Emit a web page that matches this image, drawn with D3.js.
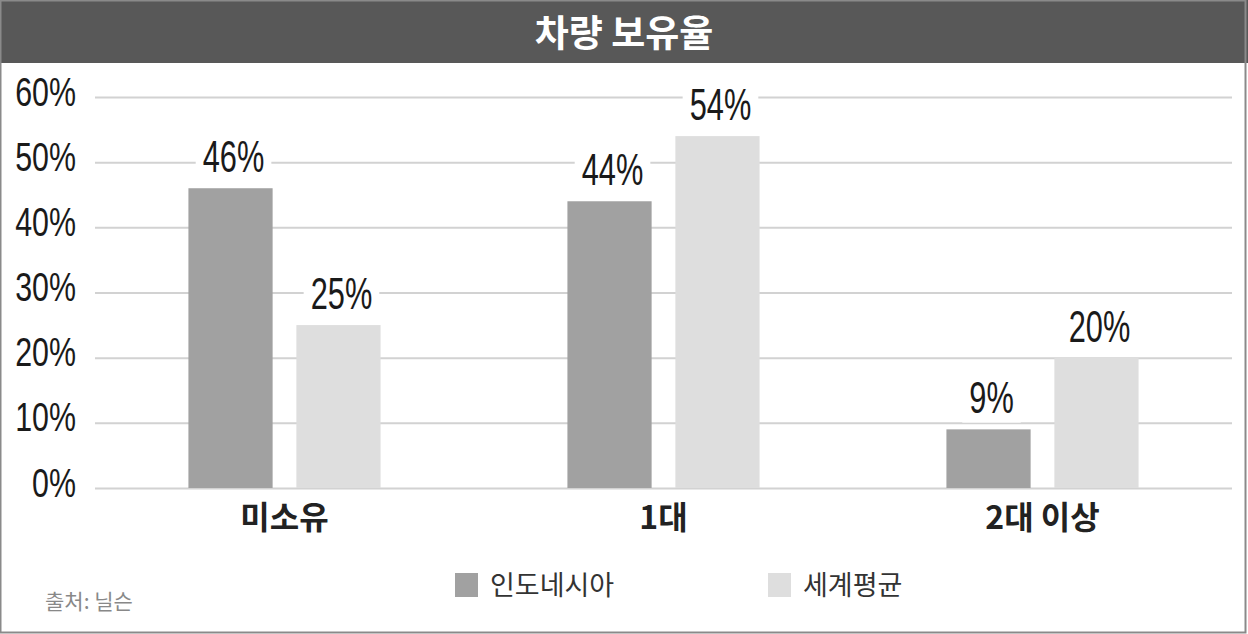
<!DOCTYPE html>
<html><head><meta charset="utf-8">
<script src="https://cdn.jsdelivr.net/npm/d3@7"></script>
<style>
html,body{margin:0;padding:0;background:#fff;}
svg{display:block;}
</style></head>
<body>
<svg id="c" width="1248" height="634"></svg>
<script>
const title = "차량 보유율";
const categories = ["미소유", "1대", "2대 이상"];
const seriesNames = ["인도네시아", "세계평균"];
const indonesia = [46, 44, 9];
const worldAvg = [25, 54, 20];
const yTicks = [0, 10, 20, 30, 40, 50, 60];
const source = "출처: 닐슨";
const colors = ["#a1a1a1", "#dedede"];

(function(){
const W = 1248, H = 634;
const svg = d3.select("#c");
const kr = "'Noto Sans CJK KR','Noto Sans',sans-serif";
const num = "'Liberation Sans',Arial,sans-serif";

svg.append("rect").attr("x",0).attr("y",0).attr("width",W).attr("height",H).attr("fill","#fff");
svg.append("rect").attr("x",0).attr("y",0).attr("width",W).attr("height",63).attr("fill","#585858");
svg.append("text").attr("x",W/2).attr("y",34).attr("dy","0.36em").attr("text-anchor","middle")
  .attr("font-family",kr).attr("font-weight","bold").attr("font-size",37).attr("fill","#fff").text(title);

const pL = 95, pR = 1232, pT = 97, pB = 488;
const y = d3.scaleLinear().domain([0,60]).range([pB, pT]);
const x0 = d3.scaleBand().domain(categories).range([pL, pR]).paddingInner(0.493).paddingOuter(0.2465);
const x1 = d3.scaleBand().domain(seriesNames).range([0, x0.bandwidth()]).paddingInner(0.22).paddingOuter(0);

const tsx = 0.76;
const yAxis = d3.axisLeft(y).tickValues(yTicks).tickFormat(d => d + "%")
  .tickSize(-(pR-pL)).tickPadding(19);
const gy = svg.append("g").attr("transform",`translate(${pL},0)`).call(yAxis);
gy.select(".domain").remove();
gy.selectAll(".tick line").attr("stroke","#d2d2d2").attr("stroke-width",2);
gy.selectAll(".tick text").attr("font-family",num).attr("font-size",40).attr("fill","#1a1a1a")
  .attr("dy","0").attr("y",8).attr("x",-19/tsx).attr("transform",`scale(${tsx},1)`);

const data = categories.map((c,i) => ({cat:c, vals:[
  {s:seriesNames[0], v:indonesia[i]}, {s:seriesNames[1], v:worldAvg[i]}]}));

const vsx = 0.7;
const g = svg.append("g").selectAll("g").data(data).join("g")
  .attr("transform", d => `translate(${x0(d.cat)},0)`);
g.selectAll("rect").data(d => d.vals).join("rect")
  .attr("x", d => x1(d.s)).attr("y", d => y(d.v))
  .attr("width", x1.bandwidth()).attr("height", d => y(0) - y(d.v))
  .attr("fill", (d,i) => colors[i]);
const lab = g.selectAll("g.val").data(d => d.vals).join("g").attr("class","val")
  .attr("transform", d => `translate(${x1(d.s) + x1.bandwidth()/2 + 3},${y(d.v) - 16}) scale(${vsx},1)`);
const bg = lab.append("rect").attr("fill","#fff");
lab.append("text")
  .attr("text-anchor","middle").attr("font-family",num).attr("font-size",44).attr("fill","#1a1a1a")
  .text(d => d.v + "%");
lab.each(function(){
  const t = d3.select(this).select("text").node().getBBox();
  const padX = 7 / vsx;
  d3.select(this).select("rect").attr("x", t.x - padX).attr("y", t.y + 4)
    .attr("width", t.width + 2*padX).attr("height", t.height - 4);
});

const xAxis = d3.axisBottom(x0).tickSize(0).tickPadding(30);
const gx = svg.append("g").attr("transform",`translate(0,${pB})`).call(xAxis);
gx.select(".domain").remove();
gx.selectAll(".tick text").attr("font-family",kr).attr("font-weight","bold").attr("font-size",32).attr("fill","#222")
  .attr("dy","0.35em");

const legX = [455, 768];
const leg = svg.append("g").selectAll("g").data(seriesNames).join("g")
  .attr("transform",(d,i) => `translate(${legX[i]},573)`);
leg.append("rect").attr("width",23).attr("height",24).attr("fill",(d,i)=>colors[i]);
leg.append("text").attr("x",35).attr("y",13).attr("dy","0.35em")
  .attr("font-family",kr).attr("font-size",27).attr("fill","#333").text(d=>d);

svg.append("text").attr("x",45).attr("y",602).attr("dy","0.35em")
  .attr("font-family",kr).attr("font-size",21).attr("fill","#888").text(source);

svg.append("rect").attr("x",0.5).attr("y",0.5).attr("width",W-3).attr("height",H-2)
  .attr("fill","none").attr("stroke","#8a8a8a").attr("stroke-width",2);
})();
</script>
</body></html>
